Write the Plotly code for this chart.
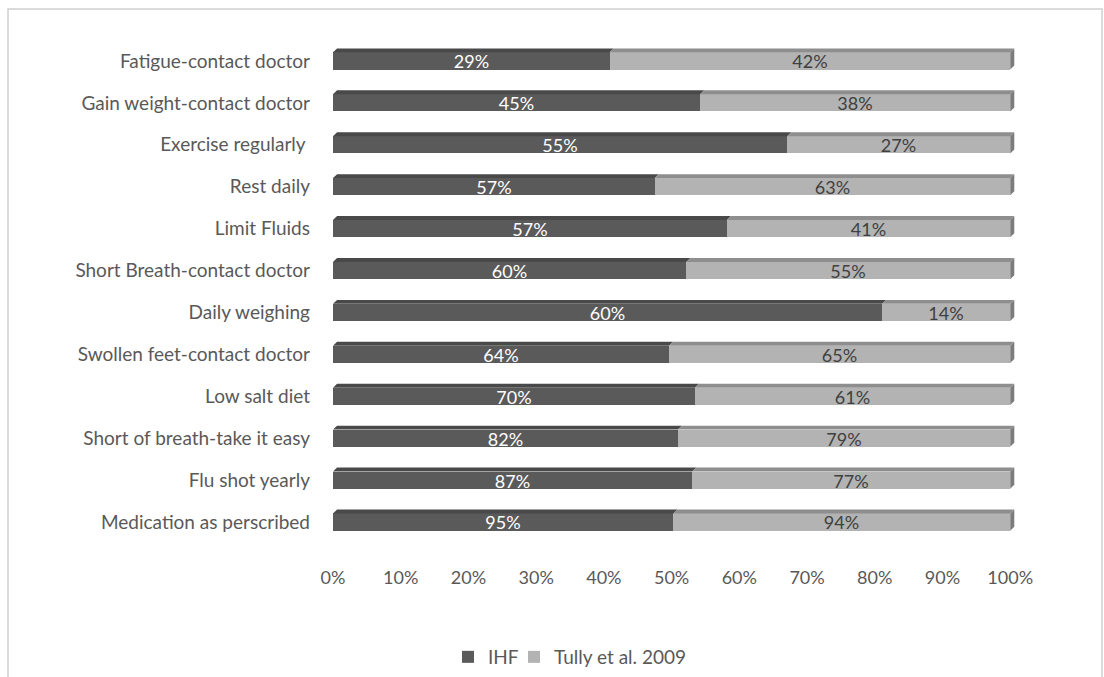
import plotly.graph_objects as go

# Self-care behaviours, listed top to bottom
categories = [
    "Fatigue-contact doctor",
    "Gain weight-contact doctor",
    "Exercise regularly\u00a0",
    "Rest daily",
    "Limit Fluids",
    "Short Breath-contact doctor",
    "Daily weighing",
    "Swollen feet-contact doctor",
    "Low salt diet",
    "Short of breath-take it easy",
    "Flu shot yearly",
    "Medication as perscribed",
]
ihf = [29, 45, 55, 57, 57, 60, 60, 64, 70, 82, 87, 95]
tully = [42, 38, 27, 63, 41, 55, 14, 65, 61, 79, 77, 94]
x_ticks = [0, 10, 20, 30, 40, 50, 60, 70, 80, 90, 100]

FONT = "Lato, Carlito, Calibri, sans-serif"
TXT = "#595959"
IHF_FACE, IHF_TOP = "#5a5a5a", "#494949"
TUL_FACE, TUL_TOP, TUL_END = "#b3b3b3", "#8e8e8e", "#7c7c7c"

W, H = 1104, 677
L, R, T, B = 333, 87, 40, 134
plot_w = W - L - R
plot_h = H - T - B

# 100% stacked shares
ihf_share = [a / (a + b) * 100 for a, b in zip(ihf, tully)]
tul_share = [100 - s for s in ihf_share]
rows = list(range(len(categories)))

BAR_W = 0.41          # bar face thickness (category units)
DEPTH = 0.095         # depth of the top face (category units)
DX = 0.6              # horizontal skew of the top face (percent units)


def px_x(p):
    return (p - L) / plot_w


def px_y(p):
    return (H - B - p) / plot_h


fig = go.Figure()
fig.add_trace(go.Bar(
    name="IHF", y=rows, x=ihf_share, orientation="h", width=BAR_W,
    marker=dict(color=IHF_FACE, line=dict(width=0)),
    text=[f"{v}%" for v in ihf], textposition="inside", insidetextanchor="middle",
    textangle=0, textfont=dict(color="#ffffff", size=18, family=FONT),
    hoverinfo="skip", legend="legend", showlegend=True,
))
fig.add_trace(go.Bar(
    name="Tully et al. 2009", y=rows, x=tul_share, orientation="h", width=BAR_W,
    marker=dict(color=TUL_FACE, line=dict(width=0)),
    text=[f"{v}%" for v in tully], textposition="inside", insidetextanchor="middle",
    textangle=0, textfont=dict(color="#404040", size=18, family=FONT),
    hoverinfo="skip", legend="legend2", showlegend=True,
))

# 3-D bevel: top faces of each segment and the end cap of every bar
shapes = []
for i, s in zip(rows, ihf_share):
    yt = i - BAR_W / 2
    yb = i + BAR_W / 2
    for x0, x1, col in ((0, s, IHF_TOP), (s, 100, TUL_TOP)):
        shapes.append(dict(
            type="path", xref="x", yref="y", layer="above",
            path=f"M {x0},{yt} L {x1},{yt} L {x1 + DX},{yt - DEPTH} L {x0 + DX},{yt - DEPTH} Z",
            fillcolor=col, line=dict(width=0),
        ))
    shapes.append(dict(
        type="path", xref="x", yref="y", layer="above",
        path=f"M 100,{yt} L {100 + DX},{yt - DEPTH} L {100 + DX},{yb - DEPTH} L 100,{yb} Z",
        fillcolor=TUL_END, line=dict(width=0),
    ))

# chart frame
shapes.append(dict(
    type="rect", xref="paper", yref="paper",
    x0=px_x(8), x1=px_x(1102), y0=px_y(9), y1=px_y(700),
    line=dict(color="#d0d0d0", width=1.5), fillcolor="rgba(0,0,0,0)",
))

legend_style = dict(
    orientation="h", y=px_y(657), xanchor="left", yanchor="middle",
    font=dict(size=19, color=TXT), itemwidth=30, bgcolor="rgba(0,0,0,0)",
    visible=True,
)

fig.update_layout(
    width=W, height=H,
    margin=dict(l=L, r=R, t=T, b=B, autoexpand=False),
    paper_bgcolor="white", plot_bgcolor="white",
    barmode="stack", bargap=0, showlegend=True,
    font=dict(family=FONT, size=18, color=TXT),
    shapes=shapes,
    uniformtext=dict(minsize=18, mode="show"),
    xaxis=dict(
        range=[0, 101], tickvals=x_ticks, ticktext=[f"{v}%" for v in x_ticks],
        showgrid=False, zeroline=False, showline=False, automargin=False,
        tickfont=dict(size=18, color=TXT), ticklabelstandoff=22,
    ),
    yaxis=dict(
        range=[len(categories) - 0.5, -0.5], tickvals=rows, ticktext=categories,
        showgrid=False, zeroline=False, showline=False, automargin=False,
        tickfont=dict(size=19, color=TXT), ticklabelstandoff=22,
    ),
    legend=dict(x=px_x(448), **legend_style),
    legend2=dict(x=px_x(514), **legend_style),
)

fig.write_html("out.html")
